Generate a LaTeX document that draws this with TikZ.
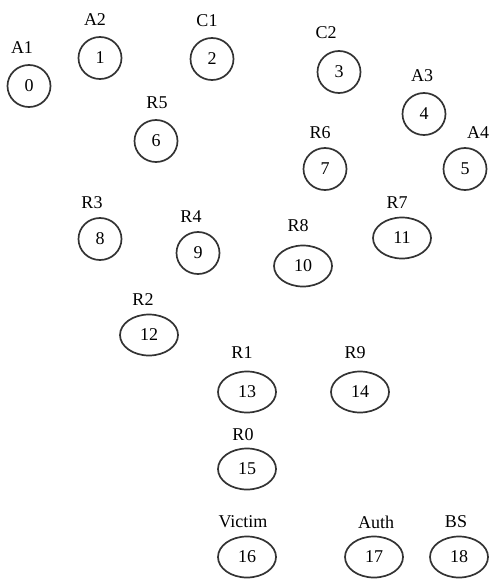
\documentclass[tikz,border=0pt]{standalone}
\usepackage{fontspec}
\setmainfont{Liberation Serif}
\usetikzlibrary{shapes.geometric}
\tikzset{
  hostA/.style={draw=black!80, line width=1.7pt, ellipse, inner sep=0pt,
    minimum width=43pt, minimum height=42pt, font=\fontsize{18}{18}\selectfont},
  hostB/.style={hostA, minimum width=58pt, minimum height=41pt},
  tag/.style={inner sep=0pt, font=\fontsize{18}{18}\selectfont}
}
\begin{document}
\begin{tikzpicture}[x=1pt,y=-1pt]
\useasboundingbox (0,0) rectangle (490,581);
% hosts
\node[hostA] (n0) at (29,86) {0};
\node[hostA] (n1) at (100,58) {1};
\node[hostA] (n2) at (212,59) {2};
\node[hostA] (n3) at (339,72) {3};
\node[hostA] (n4) at (424,114) {4};
\node[hostA] (n5) at (465,169) {5};
\node[hostA] (n6) at (156,141) {6};
\node[hostA] (n7) at (325,169) {7};
\node[hostA] (n8) at (100,239) {8};
\node[hostA] (n9) at (198,253) {9};
\node[hostB] (n10) at (303,266) {10};
\node[hostB] (n11) at (402,238) {11};
\node[hostB] (n12) at (149,335) {12};
\node[hostB] (n13) at (247,392) {13};
\node[hostB] (n14) at (360,392) {14};
\node[hostB] (n15) at (247,469) {15};
\node[hostB] (n16) at (247,557) {16};
\node[hostB] (n17) at (374,557) {17};
\node[hostB] (n18) at (459,557) {18};
% names
\node[tag] (t0) at (22,48) {A1};
\node[tag] (t1) at (95,20) {A2};
\node[tag] (t2) at (207,21) {C1};
\node[tag] (t3) at (326,33) {C2};
\node[tag] (t4) at (422,76) {A3};
\node[tag] (t5) at (478,133) {A4};
\node[tag] (t6) at (157,103) {R5};
\node[tag] (t7) at (320,133) {R6};
\node[tag] (t8) at (92,203) {R3};
\node[tag] (t9) at (191,217) {R4};
\node[tag] (t10) at (298,226) {R8};
\node[tag] (t11) at (397,203) {R7};
\node[tag] (t12) at (143,300) {R2};
\node[tag] (t13) at (242,353) {R1};
\node[tag] (t14) at (355,353) {R9};
\node[tag] (t15) at (243,435) {R0};
\node[tag] (t16) at (243,522) {Victim};
\node[tag] (t17) at (376,522) {Auth};
\node[tag] (t18) at (456,522) {BS};
\end{tikzpicture}
\end{document}
